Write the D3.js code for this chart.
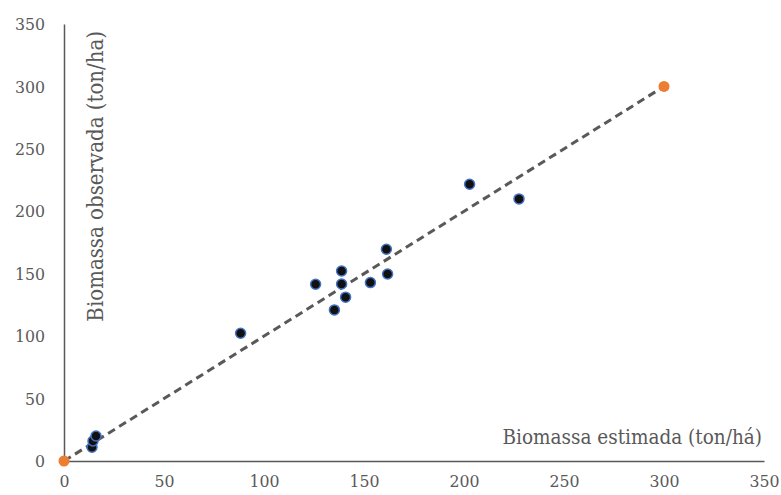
<!DOCTYPE html>
<html>
<head>
<meta charset="utf-8">
<script src="https://cdn.jsdelivr.net/npm/d3@7"></script>
<style>
  body { margin: 0; background: #fff; }
  svg text { font-stretch: condensed; }
</style>
</head>
<body>
<svg width="781" height="495"></svg>
<script>
// Observed vs estimated biomass
const estimada = [14, 14.5, 16, 88.3, 125.8, 138.8, 138.8, 140.8, 135.2, 153.2, 161.2, 161.8, 202.8, 227.5];
const observada = [11, 16, 20, 102.3, 141.6, 152.2, 141.8, 131.2, 121, 142.9, 169.6, 149.8, 221.7, 209.9];
// 1:1 reference line endpoints
const refX = [0, 300];
const refY = [0, 300];
const ticks = [0, 50, 100, 150, 200, 250, 300, 350];

const width = 781, height = 495;
const margin = { top: 24, right: 17, bottom: 34, left: 64 };
const serif = "'DejaVu Serif Condensed', 'DejaVu Serif', serif";

const svg = d3.select("svg").attr("font-family", serif);

const x = d3.scaleLinear().domain([0, 350]).range([margin.left, width - margin.right]);
const y = d3.scaleLinear().domain([0, 350]).range([height - margin.bottom, margin.top]);

// Axes
const xAxis = d3.axisBottom(x).tickValues(ticks).tickSize(0).tickPadding(14);
const yAxis = d3.axisLeft(y).tickValues(ticks).tickSize(0).tickPadding(19);

const gx = svg.append("g")
  .attr("transform", `translate(0, ${y(0)})`)
  .call(xAxis);
const gy = svg.append("g")
  .attr("transform", `translate(${x(0)}, 0)`)
  .call(yAxis);

[gx, gy].forEach(g => {
  g.attr("font-family", serif).attr("font-size", 17.5);
  g.select(".domain").attr("stroke", "#595959").attr("stroke-width", 1.5);
  g.selectAll("text").attr("fill", "#595959");
});

// Axis titles
svg.append("text")
  .attr("x", x(350) - 2)
  .attr("y", y(0) - 17)
  .attr("text-anchor", "end")
  .attr("fill", "#595959")
  .attr("font-family", serif)
  .attr("font-size", 20.5)
  .text("Biomassa estimada (ton/há)");

svg.append("text")
  .attr("transform", `translate(${x(0) + 39}, ${y(228)}) rotate(-90)`)
  .attr("text-anchor", "middle")
  .attr("fill", "#595959")
  .attr("font-family", serif)
  .attr("font-size", 22)
  .text("Biomassa observada (ton/ha)");

// 1:1 dashed line
svg.append("line")
  .attr("x1", x(refX[0])).attr("y1", y(refY[0]))
  .attr("x2", x(refX[1])).attr("y2", y(refY[1]))
  .attr("stroke", "#595959")
  .attr("stroke-width", 3)
  .attr("stroke-dasharray", "8,5");

// Observed points
svg.selectAll(".pt")
  .data(estimada.map((d, i) => [d, observada[i]]))
  .enter()
  .append("circle")
  .attr("class", "pt")
  .attr("cx", d => x(d[0]))
  .attr("cy", d => y(d[1]))
  .attr("r", 5)
  .attr("fill", "#111")
  .attr("stroke", "#4472c4")
  .attr("stroke-width", 1.5);

// Reference endpoints
svg.selectAll(".ref")
  .data(refX.map((d, i) => [d, refY[i]]))
  .enter()
  .append("circle")
  .attr("class", "ref")
  .attr("cx", d => x(d[0]))
  .attr("cy", d => y(d[1]))
  .attr("r", 5.5)
  .attr("fill", "#ed7d31");
</script>
</body>
</html>
